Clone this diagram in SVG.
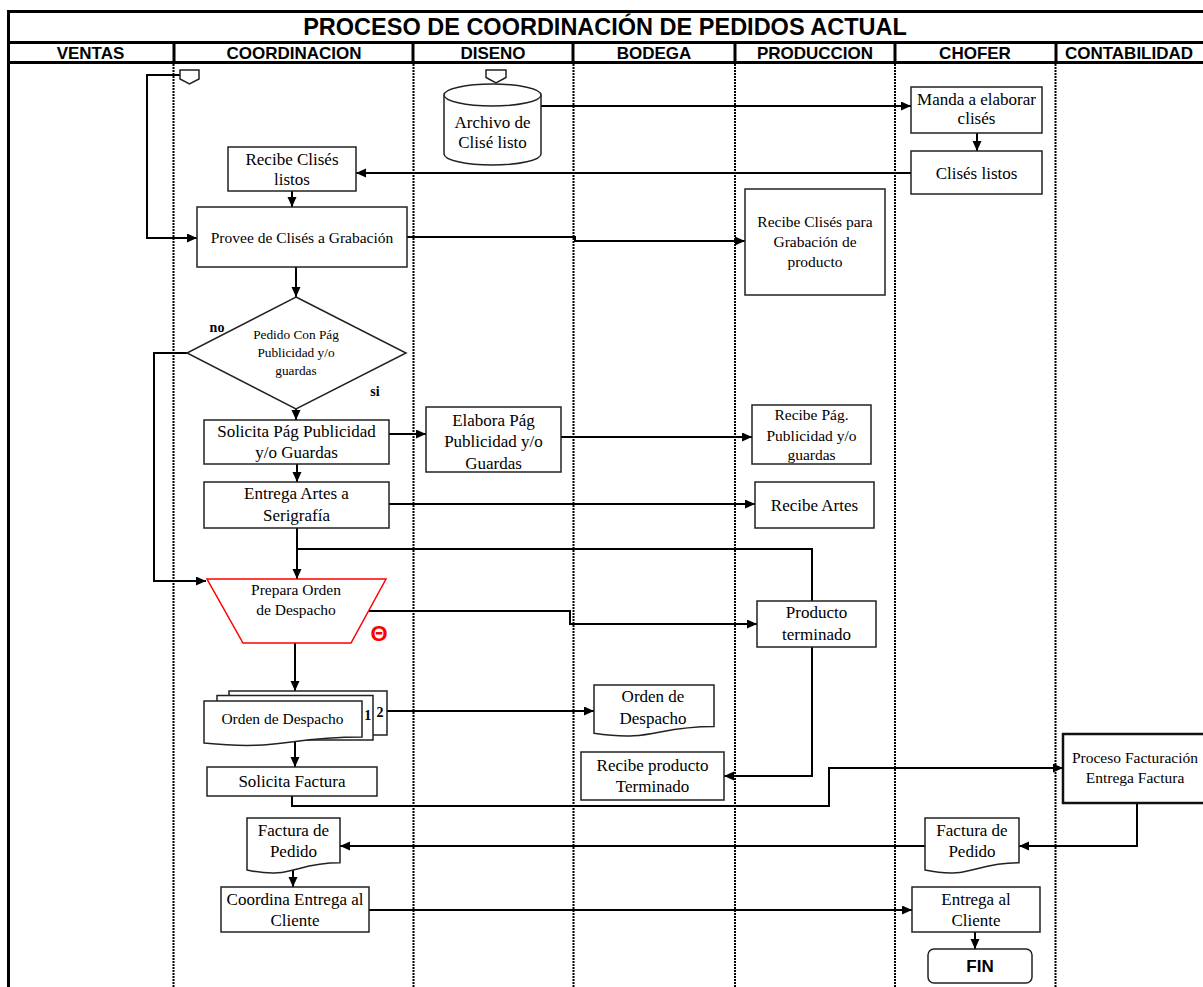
<svg xmlns="http://www.w3.org/2000/svg" width="1203" height="987" viewBox="0 0 1203 987">
<style>
.lane{stroke:#000;stroke-width:2;stroke-dasharray:2 1;fill:none}
.frame{stroke:#000;stroke-width:3;fill:none}
.box{fill:#fff;stroke:#222;stroke-width:1.5}
.conn{fill:none;stroke:#000;stroke-width:2}
.arr{marker-end:url(#ah)}
.t{font-family:"Liberation Serif","Times New Roman",serif;fill:#000;text-anchor:middle;font-size:17px}
.s15{font-size:15.5px}
.s13{font-size:13.3px}
.s14{font-size:14px}
.b{font-weight:bold}
.hdr{font-family:"Liberation Sans",Arial,sans-serif;font-weight:bold;text-anchor:middle;font-size:17px;fill:#000}
.title{font-size:23.5px}
.sym{font-family:"Liberation Sans",Arial,sans-serif;font-weight:bold;font-size:22px;fill:#f00;text-anchor:middle}
</style>
<defs>
<marker id="ah" markerUnits="userSpaceOnUse" markerWidth="11" markerHeight="10" refX="10" refY="4.5" orient="auto">
<path d="M0,0 L10,4.5 L0,9 Z" fill="#000"/>
</marker>
</defs>
<rect width="1203" height="987" fill="#fff"/>
<g id="frame">
<path class="frame" d="M8.5,990 V11.5 H1206"/>
<path class="frame" d="M8.5,42.5 H1206 M8.5,62.5 H1206"/>
<path class="frame" d="M174,42.5 V62.5 M413,42.5 V62.5 M573,42.5 V62.5 M735,42.5 V62.5 M895,42.5 V62.5 M1056,42.5 V62.5"/>
<path class="lane" d="M173.5,64 V987 M413.5,64 V987 M573.5,64 V987 M735,64 V987 M895,64 V987 M1055.5,64 V987"/>
<text class="hdr title" x="605" y="35">PROCESO DE COORDINACIÓN DE PEDIDOS ACTUAL</text>
<text class="hdr" x="90.5" y="58.5">VENTAS</text>
<text class="hdr" x="294" y="58.5">COORDINACION</text>
<text class="hdr" x="493" y="58.5">DISENO</text>
<text class="hdr" x="654" y="58.5">BODEGA</text>
<text class="hdr" x="815" y="58.5">PRODUCCION</text>
<text class="hdr" x="975" y="58.5">CHOFER</text>
<text class="hdr" x="1129" y="58.5">CONTABILIDAD</text>
</g>
<g id="connectors">
<path class="conn arr" d="M180,75 H147 V238 H197"/>
<path class="conn arr" d="M541,106 H911"/>
<path class="conn arr" d="M977,133 V151"/>
<path class="conn arr" d="M911,173 H356"/>
<path class="conn arr" d="M292,191 V207"/>
<path class="conn arr" d="M407,237 H575 V241 H745"/>
<path class="conn arr" d="M296,267 V297"/>
<path class="conn arr" d="M187,353 H154 V581 H206"/>
<path class="conn arr" d="M296,409 V420"/>
<path class="conn arr" d="M389,434 H426"/>
<path class="conn arr" d="M561,437 H752"/>
<path class="conn arr" d="M297,464 V482"/>
<path class="conn arr" d="M389,504 H755"/>
<path class="conn arr" d="M297,528 V579"/>
<path class="conn" d="M812,601 V549 H297"/>
<path class="conn arr" d="M369,611 H570 V624 H757"/>
<path class="conn arr" d="M295,643 V691"/>
<path class="conn arr" d="M387,711 H594"/>
<path class="conn arr" d="M295,742 V767"/>
<path class="conn arr" d="M812,647 V776 H724"/>
<path class="conn arr" d="M292,796 V806 H829 V768 H1063"/>
<path class="conn arr" d="M1137,803 V846 H1019"/>
<path class="conn arr" d="M925,846 H340"/>
<path class="conn arr" d="M293,870 V887"/>
<path class="conn arr" d="M369,910 H912"/>
<path class="conn arr" d="M975,932 V949"/>
</g>
<g id="conector-coord">
<path class="box" d="M180,70 H199 V79 L189.5,84 L180,79 Z"/>
</g>
<g id="conector-diseno">
<path class="box" d="M486,70 H506 V77.5 L496,83 L486,77.5 Z"/>
</g>
<g id="archivo-clise">
<path class="box" d="M444,95 A48.5,11 0 0 1 541,95 V154 A48.5,11 0 0 1 444,154 Z"/>
<path class="box" fill="none" d="M444,95 A48.5,11 0 0 0 541,95"/>
<text class="t" x="492.5" y="127.5">Archivo de</text>
<text class="t" x="492.5" y="147.5">Clisé listo</text>
</g>
<g id="manda-elaborar">
<rect class="box" x="911" y="87" width="131" height="46"/>
<text class="t" x="976.5" y="105">Manda a elaborar</text>
<text class="t" x="976.5" y="124">clisés</text>
</g>
<g id="clises-listos">
<rect class="box" x="911" y="151" width="131" height="43"/>
<text class="t" x="976.5" y="178.5">Clisés listos</text>
</g>
<g id="recibe-clises">
<rect class="box" x="228" y="147" width="128" height="44"/>
<text class="t" x="292" y="165">Recibe Clisés</text>
<text class="t" x="292" y="185">listos</text>
</g>
<g id="provee">
<rect class="box" x="197" y="207" width="210" height="60"/>
<text class="t s15" x="302" y="243">Provee de Clisés a Grabación</text>
</g>
<g id="recibe-clises-grabacion">
<rect class="box" x="745" y="189" width="140" height="106"/>
<text class="t s15" x="815" y="227">Recibe Clisés para</text>
<text class="t s15" x="815" y="247">Grabación de</text>
<text class="t s15" x="815" y="266.5">producto</text>
</g>
<g id="decision">
<polygon class="box" points="296,297 406,353 296,409 187,353"/>
<text class="t s13" x="296" y="338.5">Pedido Con Pág</text>
<text class="t s13" x="296" y="357">Publicidad y/o</text>
<text class="t s13" x="296" y="375">guardas</text>
<text class="t b s14" x="217" y="332">no</text>
<text class="t b s14" x="375" y="396">si</text>
</g>
<g id="solicita-pag">
<rect class="box" x="204" y="420" width="185" height="44"/>
<text class="t" x="296.5" y="436.5">Solicita Pág Publicidad</text>
<text class="t" x="296.5" y="458">y/o Guardas</text>
</g>
<g id="elabora-pag">
<rect class="box" x="426" y="407" width="135" height="65"/>
<text class="t" x="493.5" y="425.5">Elabora Pág</text>
<text class="t" x="493.5" y="447">Publicidad y/o</text>
<text class="t" x="493.5" y="468.5">Guardas</text>
</g>
<g id="recibe-pag">
<rect class="box" x="752" y="405" width="119" height="59"/>
<text class="t s15" x="811.5" y="420">Recibe Pág.</text>
<text class="t s15" x="811.5" y="441">Publicidad y/o</text>
<text class="t s15" x="811.5" y="460">guardas</text>
</g>
<g id="entrega-artes">
<rect class="box" x="204" y="482" width="185" height="46"/>
<text class="t" x="296.5" y="499">Entrega Artes a</text>
<text class="t" x="296.5" y="521">Serigrafía</text>
</g>
<g id="recibe-artes">
<rect class="box" x="755" y="482" width="119" height="46"/>
<text class="t" x="814.5" y="510.5">Recibe Artes</text>
</g>
<g id="prepara-orden">
<polygon points="207,579 386,579 351,643 243,643" fill="#fff" stroke="#f00" stroke-width="1.5"/>
<text class="t s15" x="296" y="595">Prepara Orden</text>
<text class="t s15" x="296" y="615">de Despacho</text>
<text class="sym" x="379" y="641">Θ</text>
</g>
<g id="producto-terminado">
<rect class="box" x="757" y="601" width="119" height="46"/>
<text class="t" x="816.5" y="618">Producto</text>
<text class="t" x="816.5" y="640">terminado</text>
</g>
<g id="orden-despacho-multi">
<rect class="box" x="229" y="691" width="158" height="44"/>
<rect class="box" x="217" y="695.5" width="156" height="44.5"/>
<path class="box" d="M204,701 H362 V737.1 C283,737.1 283,750.8 204,743 Z"/>
<text class="t s15" x="282.5" y="724">Orden de Despacho</text>
<text class="t b s14" x="367.7" y="720">1</text>
<text class="t b s14" x="380" y="717">2</text>
</g>
<g id="orden-despacho-bodega">
<path class="box" d="M594,685 H714 V726.5 C654,726.5 654,742.2 594,733.3 Z"/>
<text class="t" x="653" y="702">Orden de</text>
<text class="t" x="653" y="724">Despacho</text>
</g>
<g id="recibe-producto">
<rect class="box" x="581" y="752" width="143" height="48"/>
<text class="t" x="652.5" y="770.5">Recibe producto</text>
<text class="t" x="652.5" y="792">Terminado</text>
</g>
<g id="solicita-factura">
<rect class="box" x="207" y="767" width="170" height="29"/>
<text class="t" x="292" y="787">Solicita Factura</text>
</g>
<g id="proceso-facturacion">
<rect x="1063" y="734" width="150" height="69" fill="#fff" stroke="#111" stroke-width="2.5"/>
<text class="t s15" x="1135" y="763">Proceso Facturación</text>
<text class="t s15" x="1135" y="783">Entrega Factura</text>
</g>
<g id="factura-coord">
<path class="box" d="M247,818 H340 V862.7 C293.5,862.7 293.5,879.7 247,870 Z"/>
<text class="t" x="293.5" y="835.5">Factura de</text>
<text class="t" x="293.5" y="857">Pedido</text>
</g>
<g id="factura-chofer">
<path class="box" d="M925,818 H1019 V862.7 C972,862.7 972,879.7 925,870 Z"/>
<text class="t" x="972" y="835.5">Factura de</text>
<text class="t" x="972" y="857">Pedido</text>
</g>
<g id="coordina-entrega">
<rect class="box" x="221" y="887" width="148" height="45"/>
<text class="t" x="295" y="905">Coordina Entrega al</text>
<text class="t" x="295" y="925.5">Cliente</text>
</g>
<g id="entrega-cliente">
<rect class="box" x="912" y="887" width="128" height="45"/>
<text class="t" x="976" y="905">Entrega al</text>
<text class="t" x="976" y="925.5">Cliente</text>
</g>
<g id="fin">
<rect class="box" x="928" y="949" width="104" height="34" rx="6" stroke-width="1.8"/>
<text class="hdr" x="980" y="972">FIN</text>
</g>
</svg>
